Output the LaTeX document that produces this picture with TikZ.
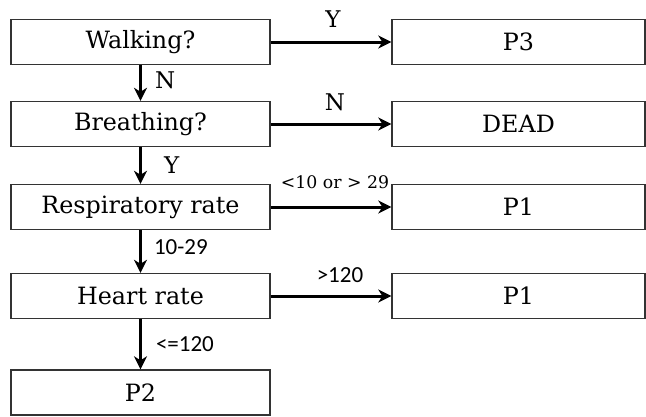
\documentclass[tikz,border=0pt]{standalone}
\usepackage{fontspec}
\setmainfont{DejaVu Serif}
\newfontfamily\labsans{Carlito}
\usetikzlibrary{arrows.meta}
\tikzset{
  box/.style={draw=black!80, line width=1.4pt, minimum height=45pt, inner sep=0pt,
    font=\fontsize{23.8}{28}\selectfont},
  lbox/.style={box, minimum width=259pt},
  rbox/.style={box, minimum width=253pt},
  arr/.style={line width=3pt, -{Stealth[length=13pt,width=13pt,inset=4pt]}},
  yn/.style={inner sep=0pt, font=\fontsize{23}{27}\selectfont},
  slab/.style={inner sep=0pt, font=\labsans\fontsize{23}{27}\selectfont},
  rlab/.style={inner sep=0pt, font=\fontsize{17.3}{20}\selectfont}
}
\begin{document}
\begin{tikzpicture}[x=1pt,y=-1pt]
\useasboundingbox (0,0) rectangle (646,416);
\node[lbox] (walk) at (140.5,42) {Walking?};
\node[lbox] (breath) at (140.5,124) {Breathing?};
\node[lbox] (resp) at (140.5,207) {Respiratory rate};
\node[lbox] (heart) at (140.5,296) {Heart rate};
\node[lbox] (p2) at (140.5,392.5) {P2};
\node[rbox] (p3) at (518.5,42) {P3};
\node[rbox] (dead) at (518.5,124) {DEAD};
\node[rbox] (p1a) at (518.5,207) {P1};
\node[rbox] (p1b) at (518.5,296) {P1};
\draw[arr] (walk) -- node[yn, above=13pt, xshift=2pt] {Y} (p3);
\draw[arr] (breath) -- node[yn, above=12pt, xshift=4pt] {N} (dead);
\draw[arr] (resp) -- node[rlab, above=17pt, xshift=4pt] {<10 or > 29} (p1a);
\draw[arr] (heart) -- node[slab, above=12pt, xshift=9pt] {>120} (p1b);
\draw[arr] (walk) -- node[yn, right=13pt, yshift=3pt] {N} (breath);
\draw[arr] (breath) -- node[yn, right=22pt] {Y} (resp);
\draw[arr] (resp) -- node[slab, right=12pt, yshift=4pt] {10-29} (heart);
\draw[arr] (heart) -- node[slab, right=14pt] {<=120} (p2);
\end{tikzpicture}
\end{document}
